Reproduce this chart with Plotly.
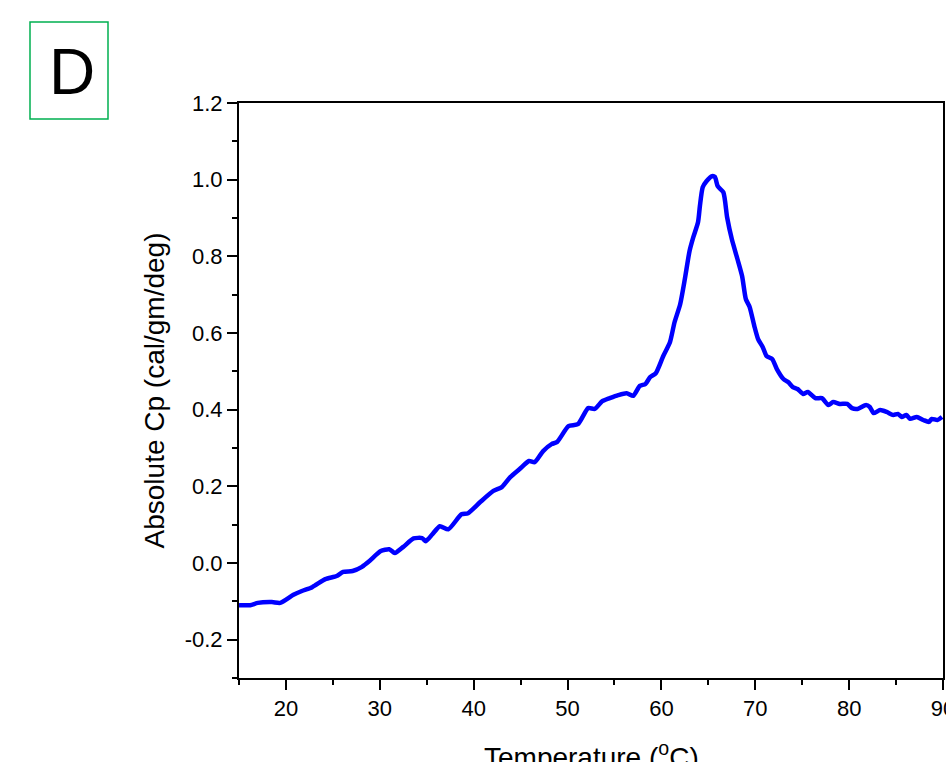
import plotly.graph_objects as go

temperature = [15.0, 16.2, 17.0, 18.5, 19.4, 20.8, 21.7, 22.8, 24.2, 25.4, 26.1, 27.1, 28.1, 28.9,
               30.1, 31.0, 31.6, 32.5, 33.6, 34.5, 34.9, 35.6, 36.4, 37.3, 38.7, 39.4, 40.7, 42.1,
               43.0, 43.9, 44.9, 45.9, 46.5, 47.4, 48.3, 48.9, 50.1, 51.1, 52.2, 52.9, 53.7, 54.5,
               55.4, 56.3, 57.0, 57.7, 58.3, 58.8, 59.4, 60.2, 60.9, 61.4, 62.0, 62.5, 63.0, 63.4,
               63.9, 64.1, 64.4, 64.8, 65.4, 65.7, 66.0, 66.6, 67.0, 67.5, 68.1, 68.6, 69.0, 69.4,
               69.9, 70.3, 70.8, 71.2, 71.8, 72.3, 73.0, 73.5, 74.0, 74.5, 75.1, 75.6, 76.4, 77.1,
               77.8, 78.3, 79.0, 79.8, 80.3, 80.9, 81.8, 82.2, 82.6, 83.3, 84.0, 84.7, 85.2, 85.6,
               86.1, 86.5, 87.2, 87.9, 88.5, 88.8, 89.4, 89.9]
cp = [-0.110, -0.110, -0.104, -0.102, -0.104, -0.083, -0.073, -0.063, -0.042, -0.034, -0.023, -0.021,
      -0.010, 0.005, 0.031, 0.036, 0.026, 0.042, 0.064, 0.065, 0.057, 0.075, 0.096, 0.088, 0.127,
      0.130, 0.159, 0.188, 0.198, 0.224, 0.245, 0.266, 0.263, 0.292, 0.310, 0.316, 0.357, 0.362,
      0.404, 0.402, 0.422, 0.430, 0.438, 0.443, 0.436, 0.462, 0.467, 0.485, 0.495, 0.540, 0.575,
      0.628, 0.675, 0.741, 0.814, 0.850, 0.889, 0.931, 0.980, 0.996, 1.009, 1.007, 0.983, 0.967,
      0.902, 0.845, 0.793, 0.748, 0.688, 0.668, 0.618, 0.584, 0.563, 0.540, 0.532, 0.506, 0.480,
      0.472, 0.459, 0.454, 0.441, 0.446, 0.430, 0.430, 0.412, 0.420, 0.415, 0.415, 0.404, 0.402,
      0.412, 0.407, 0.391, 0.399, 0.394, 0.386, 0.389, 0.381, 0.386, 0.376, 0.381, 0.373, 0.368,
      0.376, 0.373, 0.381]

x_ticks = [20, 30, 40, 50, 60, 70, 80, 90]
x_ticktext = ["20", "30", "40", "50", "60", "70", "80", "90"]
y_ticks = [-0.2, 0.0, 0.2, 0.4, 0.6, 0.8, 1.0, 1.2]
y_ticktext = ["-0.2", "0.0", "0.2", "0.4", "0.6", "0.8", "1.0", "1.2"]
panel_label = "D"
x_title = "Temperature (<sup>o</sup>C)"
y_title = "Absolute Cp (cal/gm/deg)"

FONT = "Liberation Sans, Arial, sans-serif"

fig = go.Figure()
fig.add_trace(go.Scatter(x=temperature, y=cp, mode="lines",
                         line=dict(color="#0000ff", width=4.5, shape="spline", smoothing=0.6),
                         showlegend=False))

fig.update_layout(
    width=946, height=762,
    margin=dict(l=239, r=3, t=103, b=84),
    paper_bgcolor="white", plot_bgcolor="white",
    font=dict(family=FONT, color="black"),
    xaxis=dict(range=[15, 90], tickvals=x_ticks, ticktext=x_ticktext,
               ticks="outside", ticklen=10, tickwidth=2, tickcolor="black",
               showline=True, linecolor="black", linewidth=2, mirror=True,
               showgrid=False, zeroline=False, ticklabeloverflow="allow",
               automargin=False,
               tickfont=dict(size=22, family=FONT),
               minor=dict(dtick=5, tick0=0, ticks="outside", ticklen=5, tickwidth=2,
                          tickcolor="black", showgrid=False)),
    yaxis=dict(range=[-0.3, 1.2], tickvals=y_ticks, ticktext=y_ticktext,
               ticks="outside", ticklen=10, tickwidth=2, tickcolor="black",
               showline=True, linecolor="black", linewidth=2, mirror=True,
               showgrid=False, zeroline=False, automargin=False,
               tickfont=dict(size=22, family=FONT),
               minor=dict(dtick=0.1, tick0=0, ticks="outside", ticklen=5, tickwidth=2,
                          tickcolor="black", showgrid=False),
               title=dict(text=y_title, font=dict(size=28, family=FONT),
                          standoff=12)),
)

# x-axis title (cut off by the bottom edge, as in the reference)
fig.add_annotation(text=x_title, xref="paper", yref="paper",
                   x=0.5, y=(678 - 735) / 575, xanchor="center", yanchor="top",
                   showarrow=False, font=dict(size=28, family=FONT, color="black"))

fig.add_shape(type="rect", xref="paper", yref="paper",
              x0=(30 - 239) / 704, x1=(108 - 239) / 704,
              y0=(678 - 119) / 575, y1=(678 - 22) / 575,
              line=dict(color="#00b050", width=1.5), fillcolor="rgba(0,0,0,0)")
fig.add_annotation(text=panel_label, xref="paper", yref="paper",
                   x=(72 - 239) / 704, y=(678 - 72) / 575,
                   xanchor="center", yanchor="middle", showarrow=False,
                   font=dict(size=64, family=FONT, color="black"))

fig.write_html("out.html", config={"displayModeBar": False},
               post_script="document.body.style.margin='0';document.body.style.overflow='hidden';")
